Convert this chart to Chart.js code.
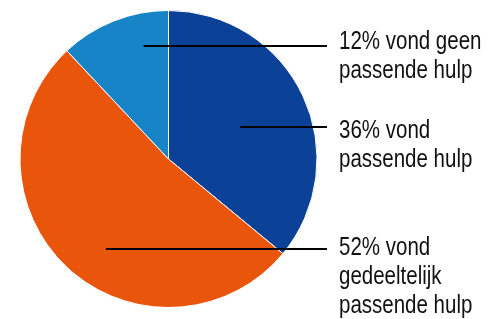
<!DOCTYPE html>
<html>
<head>
<meta charset="utf-8">
<script src="https://cdn.jsdelivr.net/npm/chart.js@4"></script>
<style>
html, body { margin: 0; padding: 0; background: #fff; }
#wrap { width: 497px; height: 319px; }
</style>
</head>
<body>
<div id="wrap"><canvas id="pieChart" width="497" height="319"></canvas></div>
<script>
// data
const categories = ["vond passende hulp", "vond gedeeltelijk passende hulp", "vond geen passende hulp"];
const shares = [36, 52, 12];
const labelLines = [
  ["36% vond", "passende hulp"],
  ["52% vond", "gedeeltelijk", "passende hulp"],
  ["12% vond geen", "passende hulp"]
];
const colors = ["#0b4297", "#e9560b", "#1684c6"];

// where each leader line starts inside its slice (angle from top in degrees, fraction of radius)
// and how far the first text baseline sits below the line
const anchors = [
  { angle: 66, r: 0.53, dy: 11 },
  { angle: 214.7, r: 0.74, dy: 6 },
  { angle: 347.6, r: 0.78, dy: 3 }
];

const labelPlugin = {
  id: "sideLabels",
  afterDraw(chart) {
    const ctx = chart.ctx;
    const arcs = chart.getDatasetMeta(0).data;
    const squeeze = 0.82; // no narrow face installed, so condense by hand
    ctx.save();
    ctx.font = "25px 'Liberation Sans', Arial, sans-serif";
    ctx.fillStyle = "#111";
    ctx.strokeStyle = "#000";
    ctx.lineWidth = 2;
    ctx.textBaseline = "alphabetic";
    arcs.forEach((arc, i) => {
      const a = anchors[i];
      const rad = a.angle * Math.PI / 180;
      const x0 = arc.x + Math.sin(rad) * arc.outerRadius * a.r;
      const y0 = Math.round(arc.y - Math.cos(rad) * arc.outerRadius * a.r);
      const x1 = arc.x + arc.outerRadius + 10;
      ctx.beginPath();
      ctx.moveTo(x0, y0);
      ctx.lineTo(x1, y0);
      ctx.stroke();
      labelLines[i].forEach((t, k) => {
        ctx.save();
        ctx.translate(x1 + 12, y0 + a.dy + k * 29);
        ctx.scale(squeeze, 1);
        ctx.fillText(t, 0, 0);
        ctx.restore();
      });
    });
    ctx.restore();
  }
};

new Chart(document.getElementById("pieChart"), {
  type: "pie",
  data: {
    labels: categories,
    datasets: [{
      data: shares,
      backgroundColor: colors,
      borderColor: "#ffffff",
      borderWidth: 1
    }]
  },
  options: {
    responsive: false,
    animation: false,
    layout: { padding: { left: 19, top: 10, right: 179, bottom: 11 } },
    plugins: {
      legend: { display: false },
      tooltip: { enabled: false }
    }
  },
  plugins: [labelPlugin]
});
</script>
</body>
</html>
